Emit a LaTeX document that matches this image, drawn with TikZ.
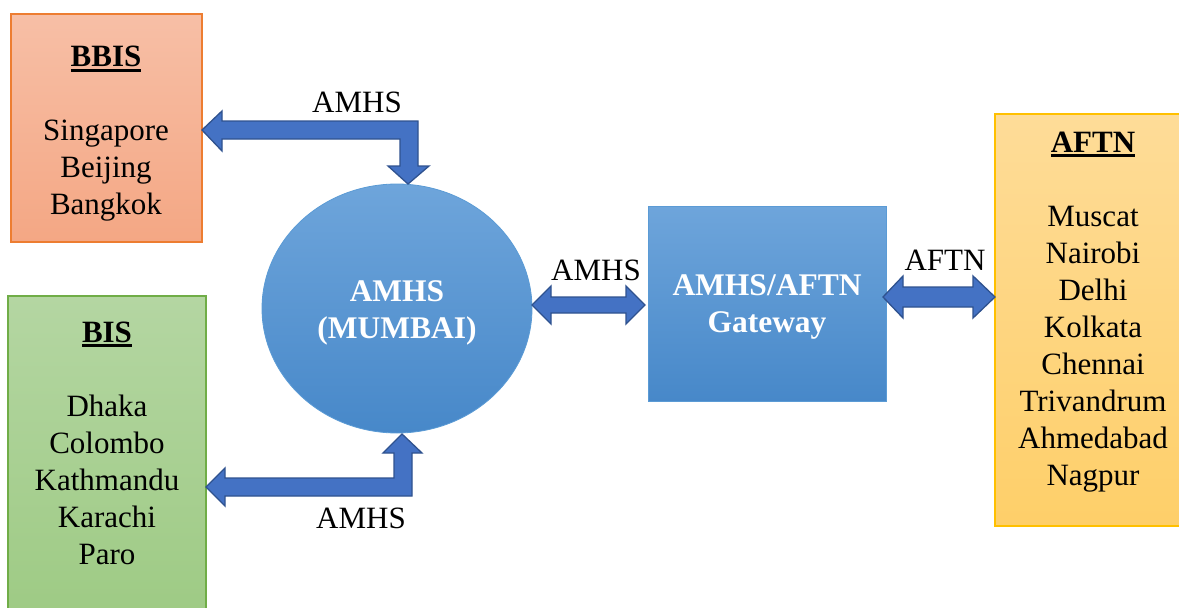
\documentclass[tikz,border=0pt]{standalone}
\usepackage{fontspec}
\setmainfont{Liberation Serif}
\usetikzlibrary{calc,shapes.geometric}
\definecolor{arrfill}{HTML}{4472C4}
\definecolor{arredge}{HTML}{2F528F}
\definecolor{bbistop}{HTML}{F7BFA6}
\definecolor{bbisbot}{HTML}{F4A784}
\definecolor{bbisedge}{HTML}{ED7D31}
\definecolor{bistop}{HTML}{B4D6A2}
\definecolor{bisbot}{HTML}{9DCA83}
\definecolor{bisedge}{HTML}{70AD47}
\definecolor{afttop}{HTML}{FEDC98}
\definecolor{aftbot}{HTML}{FECF69}
\definecolor{aftedge}{HTML}{FFC000}
\definecolor{bluetop}{HTML}{6EA5DB}
\definecolor{bluebot}{HTML}{4788C9}
\definecolor{blueedge}{HTML}{5B9BD5}
\newcommand\myul[1]{\setbox0\hbox{#1}\rlap{\rule[-5pt]{\wd0}{3pt}}\box0}
\tikzset{
  regionbox/.style={draw, line width=1.3pt, rectangle, inner sep=0pt},
  bluebox/.style={draw=blueedge, line width=0.8pt, top color=bluetop, bottom color=bluebot},
  blocktext/.style={align=center, font=\fontsize{31}{37}\selectfont, inner sep=0pt},
  whitetext/.style={align=center, font=\fontsize{31.5}{37}\selectfont\bfseries, text=white, inner sep=0pt},
  lbl/.style={font=\fontsize{31}{37}\selectfont, inner sep=0pt},
  blockarrow/.style={fill=arrfill, draw=arredge, line width=1.3pt, line join=miter}
}
\begin{document}
\begin{tikzpicture}[x=1pt,y=-1pt]
\useasboundingbox (0,0) rectangle (1179,608);
% region boxes
\path[regionbox, draw=bbisedge, top color=bbistop, bottom color=bbisbot] (11,14) rectangle (202,242);
\node[minimum width=191pt, minimum height=228pt, inner sep=0pt] (bbis) at (106.5,128) {};
\path[regionbox, draw=bisedge, top color=bistop, bottom color=bisbot] (8,296) rectangle (206,630);
\node[minimum width=198pt, minimum height=334pt, inner sep=0pt] (bis) at (107,463) {};
\path[regionbox, draw=aftedge, top color=afttop, bottom color=aftbot] (995,114) rectangle (1200,526);
\node[minimum width=205pt, minimum height=412pt, inner sep=0pt] (aftn) at (1097.5,320) {};
% texts
\node[blocktext] (bbistext) at (106,134) {\textbf{\myul{BBIS}}\\ \\ Singapore\\ Beijing\\ Bangkok};
\node[blocktext] (bistext) at (107,443) {\textbf{\myul{BIS}}\\ \\ Dhaka\\ Colombo\\ Kathmandu\\ Karachi\\ Paro};
\node[blocktext] (afttext) at (1093,312) {\textbf{\myul{AFTN}}\\ \\ Muscat\\ Nairobi\\ Delhi\\ Kolkata\\ Chennai\\ Trivandrum\\ Ahmedabad\\ Nagpur};
% central shapes
\node[bluebox, ellipse, minimum width=270pt, minimum height=249pt, inner sep=0pt] (mumbai) at (397,308.5) {};
\node[whitetext] (mumbaitext) at (397,313) {AMHS\\(MUMBAI)};
\node[bluebox, rectangle, minimum width=238pt, minimum height=195pt, inner sep=0pt] (gw) at (767,303.5) {};
\node[whitetext] (gwtext) at (767,307) {AMHS/AFTN\\Gateway};
% arrows
\coordinate (t1a) at (202,130);
\coordinate (t1b) at (408,184);
\draw[blockarrow] (t1a) -- (222,111) -- (222,121) -- (418,121) -- (418,166) -- (429,166) -- (t1b) -- (388,166) -- (400,166) -- (400,139) -- (222,139) -- (222,151) -- cycle;
\coordinate (t2a) at (206,487);
\coordinate (t2b) at (402,434);
\draw[blockarrow] (t2a) -- (225,468) -- (225,478) -- (394,478) -- (394,453) -- (383,453) -- (t2b) -- (422,453) -- (412,453) -- (412,496) -- (225,496) -- (225,506) -- cycle;
\coordinate (t3a) at (532,305);
\coordinate (t3b) at (645,305);
\draw[blockarrow] (t3a) -- (551,286) -- (551,297) -- (626,297) -- (626,286) -- (t3b) -- (626,324) -- (626,313) -- (551,313) -- (551,324) -- cycle;
\coordinate (t4a) at (883,297);
\coordinate (t4b) at (995,297);
\draw[blockarrow] (t4a) -- (903,276) -- (903,287) -- (973,287) -- (973,276) -- (t4b) -- (973,318) -- (973,307) -- (903,307) -- (903,318) -- cycle;
% labels
\node[lbl] (l1) at (357,102) {AMHS};
\node[lbl] (l2) at (361,518) {AMHS};
\node[lbl] (l3) at (596,270) {AMHS};
\node[lbl] (l4) at (945,260) {AFTN};
\end{tikzpicture}
\end{document}
